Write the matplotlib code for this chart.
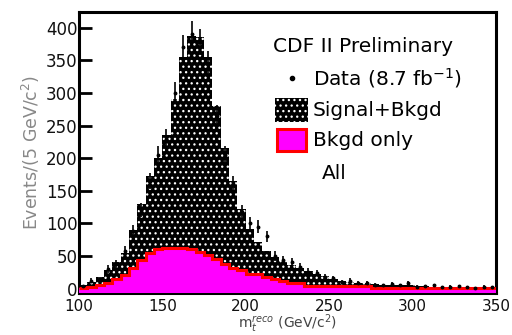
import numpy as np
import matplotlib
matplotlib.use('Agg')
import matplotlib.pyplot as plt
from matplotlib.patches import Rectangle

plt.rcParams['font.family'] = ['DejaVu Sans']
plt.rcParams['mathtext.fontset'] = 'dejavusans'
plt.rcParams['hatch.linewidth'] = 0.9

# 5 GeV/c^2 bins from 100 to 350
edges = np.arange(100, 355, 5)

# signal + background (stacked template)
total = [5, 10, 17, 28, 40, 55, 90, 130, 172, 200,
         235, 290, 355, 388, 385, 355, 280, 215, 165, 122,
         92, 72, 58, 48, 42, 36, 31, 27, 22, 19,
         15, 12, 10, 9, 8, 7, 6, 6, 5, 5,
         4, 4, 3, 3, 3, 2, 2, 2, 2, 2]

# background only
bkgd = [1, 2, 5, 9, 14, 21, 32, 44, 54, 60,
        62, 62, 62, 61, 56, 52, 46, 38, 32, 28,
        22, 22, 17, 15, 12, 8, 8, 4, 4, 4,
        4, 4, 4, 4, 4, 1, 0.5, 0.5, 0.5, 0.5,
        0.5, 0.5, 0.5, 0.5, 0.5, 0.5, 0.5, 0.5, 0.5, 0.5]

# data counts
data = [4, 12, 14, 30, 38, 58, 88, 120, 165, 205,
        230, 300, 370, 390, 378, 345, 265, 205, 160, 118,
        100, 95, 80, 50, 44, 40, 33, 26, 24, 18,
        16, 10, 12, 9, 8, 6, 5, 7, 5, 8,
        3, 4, 5, 2, 3, 4, 2, 1, 3, 2]

centers = 0.5 * (edges[:-1] + edges[1:])
data = np.array(data, dtype=float)
errs = np.sqrt(data)

fig = plt.figure(figsize=(5.12, 3.35), dpi=100)
ax = fig.add_axes([0.154, 0.125, 0.815, 0.839])

base = -10
ax.stairs(total, edges, baseline=base, fill=True, facecolor='black',
          edgecolor='white', hatch='...', linewidth=0, zorder=2)
ax.stairs(bkgd, edges, baseline=base, fill=True, facecolor='#ff00ff',
          edgecolor='#ff00ff', linewidth=0, zorder=3)
ax.stairs(bkgd, edges, baseline=None, color='red', linewidth=2.2, zorder=4)
ax.errorbar(centers, data, yerr=errs, fmt='o', ms=1.8, color='black',
            ecolor='black', elinewidth=1.2, capsize=0, zorder=5)

ax.set_xlim(100, 350)
ax.set_ylim(-7, 424)
ax.set_axisbelow(True)
ax.set_xticks([100, 150, 200, 250, 300, 350])
ax.set_yticks(np.arange(0, 401, 50))
ax.tick_params(axis='y', direction='in', length=9.5, width=2, pad=1,
               labelsize=12, labelcolor='#111111')
ax.tick_params(axis='x', direction='in', length=6, width=2, pad=4.5,
               labelsize=11, labelcolor='#111111')
for s in ax.spines.values():
    s.set_linewidth(2.2)

ax.set_ylabel(r'Events/(5 GeV/c$^2$)', fontsize=12.5, color='#888888')
ax.yaxis.set_label_coords(-0.088, 0.5)
ax.set_xlabel(r'm$_t^{reco}$ (GeV/c$^2$)', fontsize=10, color='#444444')
ax.xaxis.label.set_verticalalignment('bottom')
ax.xaxis.set_label_coords(0.5, -0.148)

# legend drawn by hand
fs = 14.5
ax.text(0.465, 0.879, 'CDF II Preliminary', transform=ax.transAxes,
        fontsize=fs, va='center', ha='left')
ax.plot([0.511], [0.765], 'o', ms=3, color='black', transform=ax.transAxes)
ax.text(0.561, 0.765, r'Data (8.7 fb$^{-1}$)', transform=ax.transAxes,
        fontsize=fs, va='center', ha='left')
ax.add_patch(Rectangle((0.470, 0.609), 0.079, 0.085, transform=ax.transAxes,
                       facecolor='black', edgecolor='white', hatch='...',
                       linewidth=0, zorder=6))
ax.text(0.561, 0.651, 'Signal+Bkgd', transform=ax.transAxes,
        fontsize=fs, va='center', ha='left')
ax.add_patch(Rectangle((0.474, 0.506), 0.071, 0.077, transform=ax.transAxes,
                       facecolor='#ff00ff', edgecolor='red', linewidth=2.2,
                       zorder=6))
ax.text(0.561, 0.544, 'Bkgd only', transform=ax.transAxes,
        fontsize=fs, va='center', ha='left')
ax.text(0.583, 0.427, 'All', transform=ax.transAxes,
        fontsize=fs, va='center', ha='left')

fig.savefig('out.png', dpi=100)
